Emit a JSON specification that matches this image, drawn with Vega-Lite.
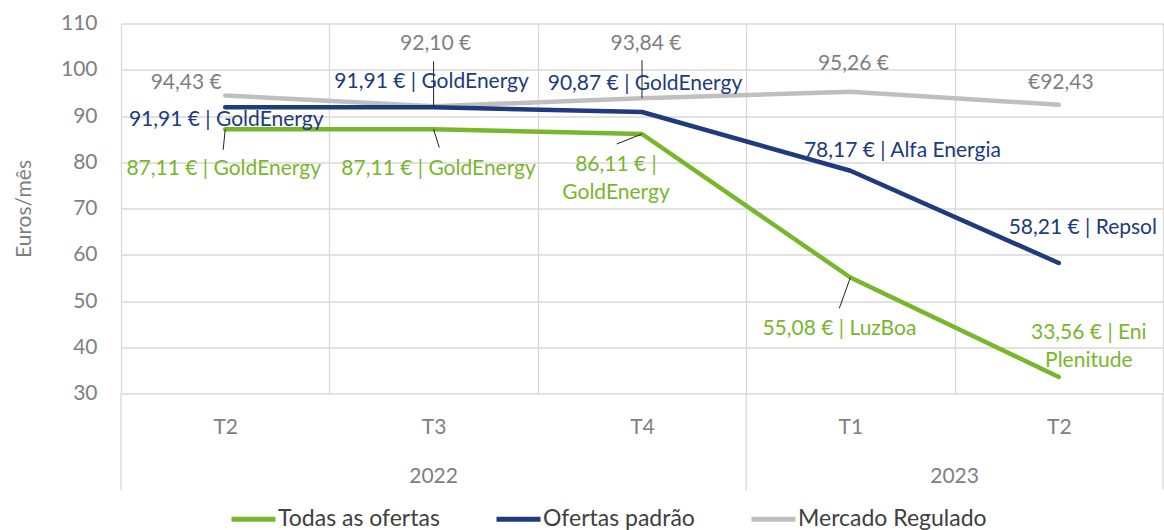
{
  "$schema": "https://vega.github.io/schema/vega-lite/v6.json",
  "width": 1042,
  "height": 370,
  "autosize": {"type": "none"},
  "padding": {"left": 121, "top": 23.5, "right": 1, "bottom": 136.5},
  "background": "white",
  "config": {
    "view": {"stroke": null},
    "font": "Lato"
  },
  "datasets": {
    "d": [
      {"q": "T2 2022", "serie": "Mercado Regulado", "v": 94.43, "label": "94,43 €"},
      {"q": "T3 2022", "serie": "Mercado Regulado", "v": 92.10, "label": "92,10 €"},
      {"q": "T4 2022", "serie": "Mercado Regulado", "v": 93.84, "label": "93,84 €"},
      {"q": "T1 2023", "serie": "Mercado Regulado", "v": 95.26, "label": "95,26 €"},
      {"q": "T2 2023", "serie": "Mercado Regulado", "v": 92.43, "label": "€92,43"},
      {"q": "T2 2022", "serie": "Ofertas padrão", "v": 91.91, "label": "91,91 € | GoldEnergy"},
      {"q": "T3 2022", "serie": "Ofertas padrão", "v": 91.91, "label": "91,91 € | GoldEnergy"},
      {"q": "T4 2022", "serie": "Ofertas padrão", "v": 90.87, "label": "90,87 € | GoldEnergy"},
      {"q": "T1 2023", "serie": "Ofertas padrão", "v": 78.17, "label": "78,17 € | Alfa Energia"},
      {"q": "T2 2023", "serie": "Ofertas padrão", "v": 58.21, "label": "58,21 € | Repsol"},
      {"q": "T2 2022", "serie": "Todas as ofertas", "v": 87.11, "label": "87,11 € | GoldEnergy"},
      {"q": "T3 2022", "serie": "Todas as ofertas", "v": 87.11, "label": "87,11 € | GoldEnergy"},
      {"q": "T4 2022", "serie": "Todas as ofertas", "v": 86.11, "label": "86,11 € |\nGoldEnergy"},
      {"q": "T1 2023", "serie": "Todas as ofertas", "v": 55.08, "label": "55,08 € | LuzBoa"},
      {"q": "T2 2023", "serie": "Todas as ofertas", "v": 33.56, "label": "33,56 € | Eni\nPlenitude"}
    ]
  },
  "data": {"name": "d"},
  "encoding": {
    "x": {
      "field": "q",
      "type": "nominal",
      "scale": {"type": "band", "domain": ["T2 2022", "T3 2022", "T4 2022", "T1 2023", "T2 2023"], "paddingInner": 0, "paddingOuter": 0},
      "axis": {
        "title": null,
        "labelExpr": "slice(datum.label, 0, 2)",
        "labelAngle": 0,
        "labelFont": "Lato",
        "labelFontSize": 21,
        "labelColor": "#808080",
        "labelPadding": 23,
        "ticks": false,
        "domain": false,
        "grid": true,
        "tickBand": "extent",
        "gridColor": "#d9d9d9",
        "gridWidth": 1.3
      }
    },
    "y": {
      "field": "v",
      "type": "quantitative",
      "scale": {"domain": [30, 110], "nice": false, "zero": false},
      "axis": {
        "values": [30, 40, 50, 60, 70, 80, 90, 100, 110],
        "title": "Euros/mês",
        "titleFont": "Lato",
        "titleFontSize": 21,
        "titleFontWeight": "normal",
        "titleColor": "#7f7f7f",
        "titlePadding": 26,
        "labelFont": "Lato",
        "labelFontSize": 21,
        "labelColor": "#808080",
        "labelPadding": 24,
        "ticks": false,
        "domain": false,
        "grid": true,
        "gridColor": "#d9d9d9",
        "gridWidth": 1.3
      }
    }
  },
  "layer": [
    {
      "transform": [{"filter": "datum.serie == 'Todas as ofertas' && (datum.q == 'T2 2022' || datum.q == 'T1 2023')"}],
      "mark": {"type": "rule", "color": "#d9d9d9", "strokeWidth": 1.3, "clip": false},
      "encoding": {
        "x": {"field": "q", "type": "nominal", "bandPosition": 0},
        "y": {"datum": 30, "type": "quantitative"},
        "y2": {"datum": 9.1}
      }
    },
    {
      "transform": [{"filter": "datum.serie == 'Todas as ofertas' && datum.q == 'T2 2023'"}],
      "mark": {"type": "rule", "color": "#d9d9d9", "strokeWidth": 1.3, "clip": false},
      "encoding": {
        "x": {"field": "q", "type": "nominal", "bandPosition": 1},
        "y": {"datum": 30, "type": "quantitative"},
        "y2": {"datum": 9.1}
      }
    },
    {
      "transform": [{"filter": "datum.serie == 'Todas as ofertas' && datum.q == 'T3 2022'"}],
      "mark": {"type": "text", "font": "Lato", "fontSize": 21, "color": "#808080", "baseline": "middle", "align": "center", "clip": false},
      "encoding": {
        "x": {"field": "q", "type": "nominal", "bandPosition": 0.5},
        "y": {"datum": 11.9, "type": "quantitative"},
        "text": {"value": "2022"}
      }
    },
    {
      "transform": [{"filter": "datum.serie == 'Todas as ofertas' && datum.q == 'T1 2023'"}],
      "mark": {"type": "text", "font": "Lato", "fontSize": 21, "color": "#808080", "baseline": "middle", "align": "center", "clip": false},
      "encoding": {
        "x": {"field": "q", "type": "nominal", "bandPosition": 1},
        "y": {"datum": 11.9, "type": "quantitative"},
        "text": {"value": "2023"}
      }
    },
    {
      "mark": {"type": "line", "strokeWidth": 4.5, "strokeCap": "round", "strokeJoin": "round"},
      "encoding": {
        "color": {
          "field": "serie",
          "type": "nominal",
          "scale": {"domain": ["Todas as ofertas", "Ofertas padrão", "Mercado Regulado"], "range": ["#78b72b", "#203a7e", "#bfbfbf"]},
          "legend": {
            "title": null,
            "orient": "none",
            "legendX": 108,
            "legendY": 471,
            "direction": "horizontal",
            "symbolType": "stroke",
            "symbolSize": 1936,
            "symbolStrokeWidth": 5,
            "labelFont": "Lato",
            "labelFontSize": 23,
            "labelColor": "#404040",
            "labelOffset": 0,
            "labelLimit": 400,
            "columnPadding": 46
          }
        }
      }
    },
    {
      "transform": [{"filter": "datum.serie == 'Mercado Regulado' && (datum.q == 'T3 2022')"}],
      "mark": {"type": "rule", "color": "#222222", "strokeWidth": 1, "yOffset": -45},
      "encoding": {"y2": {"field": "v"}}
    },
    {
      "transform": [{"filter": "datum.serie == 'Mercado Regulado' && (datum.q == 'T4 2022')"}],
      "mark": {"type": "rule", "color": "#222222", "strokeWidth": 1, "yOffset": -38},
      "encoding": {"y2": {"field": "v"}}
    },
    {
      "transform": [{"filter": "datum.serie == 'Todas as ofertas' && datum.q == 'T2 2022'"}],
      "mark": {"type": "rule", "color": "#222222", "strokeWidth": 1, "x2Offset": -2, "y2Offset": 20.5},
      "encoding": {"x": {"field": "q", "type": "nominal", "bandPosition": 0.5}, "x2": {"field": "q", "bandPosition": 0.5}, "y2": {"field": "v"}}
    },
    {
      "transform": [{"filter": "datum.serie == 'Todas as ofertas' && datum.q == 'T3 2022'"}],
      "mark": {"type": "rule", "color": "#222222", "strokeWidth": 1, "x2Offset": 5.7, "y2Offset": 18.3},
      "encoding": {"x": {"field": "q", "type": "nominal", "bandPosition": 0.5}, "x2": {"field": "q", "bandPosition": 0.5}, "y2": {"field": "v"}}
    },
    {
      "transform": [{"filter": "datum.serie == 'Todas as ofertas' && datum.q == 'T4 2022'"}],
      "mark": {"type": "rule", "color": "#222222", "strokeWidth": 1, "x2Offset": -25.3, "y2Offset": 10},
      "encoding": {"x": {"field": "q", "type": "nominal", "bandPosition": 0.5}, "x2": {"field": "q", "bandPosition": 0.5}, "y2": {"field": "v"}}
    },
    {
      "transform": [{"filter": "datum.serie == 'Todas as ofertas' && datum.q == 'T1 2023'"}],
      "mark": {"type": "rule", "color": "#222222", "strokeWidth": 1, "x2Offset": -11.1, "y2Offset": 30.8},
      "encoding": {"x": {"field": "q", "type": "nominal", "bandPosition": 0.5}, "x2": {"field": "q", "bandPosition": 0.5}, "y2": {"field": "v"}}
    },
    {"transform": [{"filter": "datum.serie == 'Mercado Regulado' && datum.q == 'T2 2022'"}], "mark": {"type": "text", "font": "Lato", "fontSize": 21, "color": "#7f7f7f", "baseline": "middle", "align": "center", "lineBreak": "\n", "lineHeight": 28, "dx": -39, "dy": -13}, "encoding": {"text": {"field": "label"}}},
    {"transform": [{"filter": "datum.serie == 'Mercado Regulado' && datum.q == 'T3 2022'"}], "mark": {"type": "text", "font": "Lato", "fontSize": 21, "color": "#7f7f7f", "baseline": "middle", "align": "center", "lineBreak": "\n", "lineHeight": 28, "dx": 2, "dy": -62}, "encoding": {"text": {"field": "label"}}},
    {"transform": [{"filter": "datum.serie == 'Mercado Regulado' && datum.q == 'T4 2022'"}], "mark": {"type": "text", "font": "Lato", "fontSize": 21, "color": "#7f7f7f", "baseline": "middle", "align": "center", "lineBreak": "\n", "lineHeight": 28, "dx": 4, "dy": -54}, "encoding": {"text": {"field": "label"}}},
    {"transform": [{"filter": "datum.serie == 'Mercado Regulado' && datum.q == 'T1 2023'"}], "mark": {"type": "text", "font": "Lato", "fontSize": 21, "color": "#7f7f7f", "baseline": "middle", "align": "center", "lineBreak": "\n", "lineHeight": 28, "dx": 3, "dy": -28}, "encoding": {"text": {"field": "label"}}},
    {"transform": [{"filter": "datum.serie == 'Mercado Regulado' && datum.q == 'T2 2023'"}], "mark": {"type": "text", "font": "Lato", "fontSize": 21, "color": "#7f7f7f", "baseline": "middle", "align": "center", "lineBreak": "\n", "lineHeight": 28, "dx": 2, "dy": -22}, "encoding": {"text": {"field": "label"}}},
    {"transform": [{"filter": "datum.serie == 'Ofertas padrão' && datum.q == 'T2 2022'"}], "mark": {"type": "text", "font": "Lato", "fontSize": 21, "color": "#203a7e", "baseline": "middle", "align": "center", "lineBreak": "\n", "lineHeight": 28, "dx": 1, "dy": 13}, "encoding": {"text": {"field": "label"}}},
    {"transform": [{"filter": "datum.serie == 'Ofertas padrão' && datum.q == 'T3 2022'"}], "mark": {"type": "text", "font": "Lato", "fontSize": 21, "color": "#203a7e", "baseline": "middle", "align": "center", "lineBreak": "\n", "lineHeight": 28, "dx": -2, "dy": -25}, "encoding": {"text": {"field": "label"}}},
    {"transform": [{"filter": "datum.serie == 'Ofertas padrão' && datum.q == 'T4 2022'"}], "mark": {"type": "text", "font": "Lato", "fontSize": 21, "color": "#203a7e", "baseline": "middle", "align": "center", "lineBreak": "\n", "lineHeight": 28, "dx": 3, "dy": -28}, "encoding": {"text": {"field": "label"}}},
    {"transform": [{"filter": "datum.serie == 'Ofertas padrão' && datum.q == 'T1 2023'"}], "mark": {"type": "text", "font": "Lato", "fontSize": 21, "color": "#203a7e", "baseline": "middle", "align": "center", "lineBreak": "\n", "lineHeight": 28, "dx": 52, "dy": -20}, "encoding": {"text": {"field": "label"}}},
    {"transform": [{"filter": "datum.serie == 'Ofertas padrão' && datum.q == 'T2 2023'"}], "mark": {"type": "text", "font": "Lato", "fontSize": 21, "color": "#203a7e", "baseline": "middle", "align": "center", "lineBreak": "\n", "lineHeight": 28, "dx": 24, "dy": -35}, "encoding": {"text": {"field": "label"}}},
    {"transform": [{"filter": "datum.serie == 'Todas as ofertas' && datum.q == 'T2 2022'"}], "mark": {"type": "text", "font": "Lato", "fontSize": 21, "color": "#78b72b", "baseline": "middle", "align": "center", "lineBreak": "\n", "lineHeight": 28, "dx": -1.5, "dy": 40}, "encoding": {"text": {"field": "label"}}},
    {"transform": [{"filter": "datum.serie == 'Todas as ofertas' && datum.q == 'T3 2022'"}], "mark": {"type": "text", "font": "Lato", "fontSize": 21, "color": "#78b72b", "baseline": "middle", "align": "center", "lineBreak": "\n", "lineHeight": 28, "dx": 5, "dy": 40}, "encoding": {"text": {"field": "label"}}},
    {"transform": [{"filter": "datum.serie == 'Todas as ofertas' && datum.q == 'T4 2022'"}], "mark": {"type": "text", "font": "Lato", "fontSize": 21, "color": "#78b72b", "baseline": "middle", "align": "center", "lineBreak": "\n", "lineHeight": 28, "dx": -26, "dy": 31}, "encoding": {"text": {"field": "label"}}},
    {"transform": [{"filter": "datum.serie == 'Todas as ofertas' && datum.q == 'T1 2023'"}], "mark": {"type": "text", "font": "Lato", "fontSize": 21, "color": "#78b72b", "baseline": "middle", "align": "center", "lineBreak": "\n", "lineHeight": 28, "dx": -11, "dy": 51}, "encoding": {"text": {"field": "label"}}},
    {"transform": [{"filter": "datum.serie == 'Todas as ofertas' && datum.q == 'T2 2023'"}], "mark": {"type": "text", "font": "Lato", "fontSize": 21, "color": "#78b72b", "baseline": "middle", "align": "center", "lineBreak": "\n", "lineHeight": 28, "dx": 30, "dy": -44}, "encoding": {"text": {"field": "label"}}}
  ]
}
